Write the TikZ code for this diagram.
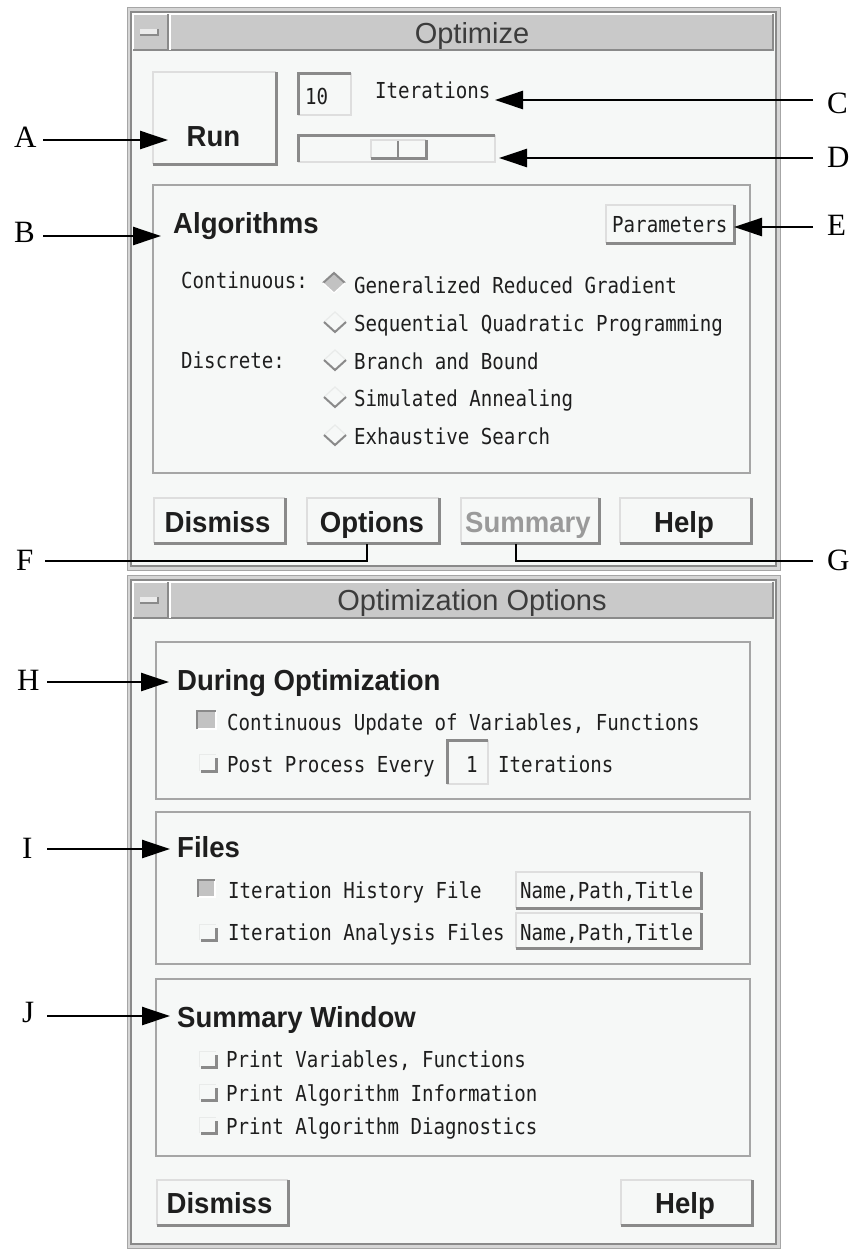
\documentclass[tikz,border=0pt]{standalone}
\usepackage{fontspec}
\usetikzlibrary{arrows.meta}
\newfontfamily\uibold[FakeStretch=0.95]{Liberation Sans}
\newfontfamily\uimono[FakeStretch=0.87]{DejaVu Sans Mono}
\newfontfamily\uititle{Liberation Sans}
\newfontfamily\labfont{Liberation Serif}
\definecolor{winbg}{HTML}{F6F8F7}
\definecolor{barfill}{HTML}{C9C9C9}
\definecolor{edgedark}{HTML}{8A8A8A}
\definecolor{edgelight}{HTML}{DEDEDE}
\definecolor{edgefaint}{HTML}{E9EBEA}
\definecolor{framegray}{HTML}{A6A6A6}
\definecolor{borderband}{HTML}{D6D6D6}
\definecolor{txt}{HTML}{1E1E1E}
\definecolor{titletxt}{HTML}{3C3C3C}
\definecolor{disabled}{HTML}{9A9A9A}
\definecolor{checkfill}{HTML}{C2C2C2}

% raised button face: light top/left, dark bottom/right
\newcommand{\raisedrect}[4]{%
  \fill[winbg] (#1,#2) rectangle (#3,#4);
  \draw[edgelight, line width=1.2bp] (#1,#4) -- (#1,#2) -- (#3,#2);
  \draw[edgedark, line width=3bp] (#3,#2) -- (#3,#4) -- (#1,#4);}
% sunken field: dark top/left, light bottom/right
\newcommand{\sunkenrect}[4]{%
  \fill[winbg] (#1,#2) rectangle (#3,#4);
  \draw[edgelight, line width=1.2bp] (#3,#2) -- (#3,#4) -- (#1,#4);
  \draw[edgedark, line width=3bp] (#1,#4) -- (#1,#2) -- (#3,#2);}
% check box, set
\newcommand{\checkon}[4]{%
  \fill[checkfill] (#1,#2) rectangle (#3,#4);
  \draw[white, line width=1.2bp] (#3,#2) -- (#3,#4) -- (#1,#4);
  \draw[edgedark, line width=2.5bp] (#1,#4) -- (#1,#2) -- (#3,#2);}
% check box, unset
\newcommand{\checkoff}[4]{%
  \draw[edgefaint, line width=1bp] (#1,#4) -- (#1,#2) -- (#3,#2);
  \draw[edgedark, line width=3bp] (#3,#2+4) -- (#3,#4) -- (#1+2,#4);}
% radio diamond, unset (centre x, centre y)
\newcommand{\radiooff}[2]{%
  \draw[edgefaint, line width=1.2bp] (#1-11,#2) -- (#1,#2-10) -- (#1+11,#2);
  \draw[edgedark, line width=2bp] (#1-11,#2) -- (#1,#2+10) -- (#1+11,#2);}
% radio diamond, set
\newcommand{\radioon}[2]{%
  \fill[checkfill] (#1-11,#2) -- (#1,#2-10) -- (#1+11,#2) -- (#1,#2+10) -- cycle;
  \draw[edgedark, line width=2bp] (#1-11,#2) -- (#1,#2-10) -- (#1+11,#2);
  \draw[white, line width=1.2bp] (#1-11,#2) -- (#1,#2+10) -- (#1+11,#2);}
% window frame with title bar
\newcommand{\guiwindow}[5]{% x1 y1 x2 y2 titlebar-bottom
  \fill[borderband] (#1,#2) rectangle (#3,#4);
  \draw[framegray, line width=1bp] (#1,#2) rectangle (#3,#4);
  \fill[winbg] (#1+4,#2+5) rectangle (#3-4,#4-4);
  \draw[edgedark, line width=2bp] (#1+4,#2+5) rectangle (#3-4,#4-4);
  \fill[barfill] (#1+6,#2+7) rectangle (#3-7,#5);
  \draw[white, line width=1.2bp] (#1+6,#5) -- (#1+6,#2+7) -- (#3-7,#2+7);
  \draw[edgedark, line width=2bp] (#3-7,#2+7) -- (#3-7,#5) -- (#1+6,#5);
  \draw[edgedark, line width=1.5bp] (#1+41,#2+7) -- (#1+41,#5);
  \draw[white, line width=1.2bp] (#1+43,#2+7) -- (#1+43,#5);
  \fill[white!92!black] (#1+13,#2+22) rectangle (#1+31,#2+28);
  \draw[edgedark, line width=1.2bp] (#1+31,#2+22) -- (#1+31,#2+28) -- (#1+13,#2+28);}

\tikzset{
  mono/.style={font={\uimono\fontsize{22bp}{22bp}\selectfont}, text=txt, inner sep=0pt, anchor=base west},
  boldtxt/.style={font={\uibold\bfseries\fontsize{29bp}{29bp}\selectfont}, text=txt, inner sep=0pt, anchor=base},
  heading/.style={boldtxt, anchor=base west},
  wintitle/.style={font={\uititle\fontsize{29bp}{29bp}\selectfont}, text=titletxt, inner sep=0pt, anchor=base},
  lab/.style={font={\labfont\fontsize{31bp}{31bp}\selectfont}, text=black, inner sep=0pt, text height=20bp, text depth=0pt, anchor=west},
  callout/.style={draw=black, line width=2.5bp, -{Triangle[length=28bp,width=18bp]}},
  leader/.style={draw=black, line width=2.5bp, line join=miter},
  groupframe/.style={draw=framegray, line width=2bp},
}

\begin{document}
\begin{tikzpicture}[x=1bp,y=-1bp]
\useasboundingbox (0,0) rectangle (851,1251);
\fill[white] (0,0) rectangle (851,1251);

% ---------- Optimize window ----------
\guiwindow{127}{7}{780}{570}{50}
\node[wintitle] (t1) at (472,43) {Optimize};

\raisedrect{153}{72}{276}{164}
\node[boldtxt] (run) at (213.5,146) {Run};

\sunkenrect{298}{73}{351}{115}
\node[mono] (iterval) at (305,104) {10};
\node[mono] (iterlbl) at (375,98.5) {Iterations};

\sunkenrect{298}{135}{495}{162}
\fill[winbg] (371,140) rectangle (426,158);
\draw[edgelight, line width=1.2bp] (371,158) -- (371,140) -- (426,140);
\draw[edgedark, line width=3bp] (426,140) -- (426,158) -- (371,158);
\draw[edgedark, line width=2.5bp] (398,141) -- (398,158);

\draw[groupframe] (153,185) rectangle (750,473);
\node[heading] (algo) at (173,233) {Algorithms};
\raisedrect{606}{205}{734}{243}
\node[mono] (param) at (612,232) {Parameters};

\node[mono] (cont) at (181,288) {Continuous:};
\node[mono] (disc) at (181,368) {Discrete:};
\radioon{334}{283}
\radiooff{335}{322}
\radiooff{335}{360}
\radiooff{335}{397}
\radiooff{335}{435}
\node[mono] (grg) at (354,293) {Generalized Reduced Gradient};
\node[mono] (sqp) at (354,331) {Sequential Quadratic Programming};
\node[mono] (bb)  at (354,369) {Branch and Bound};
\node[mono] (sa)  at (354,406) {Simulated Annealing};
\node[mono] (es)  at (354,444) {Exhaustive Search};

\raisedrect{154}{498}{285}{543}
\raisedrect{307}{498}{439}{543}
\raisedrect{461}{498}{599}{543}
\raisedrect{620}{498}{751}{543}
\node[boldtxt] (dis1) at (217.5,532) {Dismiss};
\node[boldtxt] (opt1) at (372,532) {Options};
\node[boldtxt, text=disabled] (sum1) at (528,532) {Summary};
\node[boldtxt] (help1) at (684,532) {Help};

% ---------- Optimization Options window ----------
\guiwindow{127}{575}{780}{1248}{618}
\node[wintitle] (t2) at (472,610) {Optimization Options};

\draw[groupframe] (156,642) rectangle (750,799);
\node[heading] (during) at (177,690) {During Optimization};
\checkon{197}{711}{216}{729}
\node[mono] (cu) at (227,730) {Continuous Update of Variables, Functions};
\checkoff{199}{754}{216}{771}
\node[mono] (pp) at (227,772) {Post Process Every};
\sunkenrect{447}{740}{488}{784}
\node[mono] (ppval) at (466,772) {1};
\node[mono] (ppit) at (498,772) {Iterations};

\draw[groupframe] (156,812) rectangle (750,964);
\node[heading] (files) at (177,857) {Files};
\checkon{198}{880}{215}{897}
\node[mono] (ihf) at (228,898) {Iteration History File};
\raisedrect{516}{872}{701}{908}
\node[mono] (np1) at (520,898) {Name,Path,Title};
\checkoff{199}{924}{216}{940}
\node[mono] (iaf) at (228,940) {Iteration Analysis Files};
\raisedrect{516}{913}{701}{948}
\node[mono] (np2) at (520,940) {Name,Path,Title};

\draw[groupframe] (156,979) rectangle (750,1156);
\node[heading] (sumwin) at (177,1027) {Summary Window};
\checkoff{199}{1051}{216}{1067}
\node[mono] (pvf) at (226,1067) {Print Variables, Functions};
\checkoff{199}{1084}{216}{1100}
\node[mono] (pai) at (226,1101) {Print Algorithm Information};
\checkoff{199}{1117}{216}{1133}
\node[mono] (pad) at (226,1134) {Print Algorithm Diagnostics};

\raisedrect{157}{1180}{288}{1225}
\raisedrect{621}{1180}{752}{1225}
\node[boldtxt] (dis2) at (219.5,1213) {Dismiss};
\node[boldtxt] (help2) at (685,1213) {Help};

% ---------- callout letters and their leaders ----------
\node[lab] (A) at (14,137.5) {A};
\node[lab] (B) at (14,232) {B};
\node[lab] (C) at (827,103) {C};
\node[lab] (D) at (827,157) {D};
\node[lab] (E) at (827,225) {E};
\node[lab] (F) at (16,560.5) {F};
\node[lab] (G) at (827,560.5) {G};
\node[lab] (H) at (17,680) {H};
\node[lab] (I) at (22,848) {I};
\node[lab] (J) at (22,1012) {J};

\coordinate (tA) at (168,140);
\coordinate (tB) at (161,236);
\coordinate (tC) at (495,100);
\coordinate (tD) at (499,158);
\coordinate (tE) at (734,227);
\coordinate (fF) at (367,561);
\coordinate (tF) at (367,544);
\coordinate (gG) at (516,561);
\coordinate (tG) at (516,544);
\coordinate (tH) at (169,682);
\coordinate (tI) at (170,849);
\coordinate (tJ) at (170,1016);

\draw[callout] ([xshift=6.6bp]A.east |- tA) -- (tA);
\draw[callout] ([xshift=8.3bp]B.east |- tB) -- (tB);
\draw[callout] ([xshift=-14bp]C.west |- tC) -- (tC);
\draw[callout] ([xshift=-14bp]D.west |- tD) -- (tD);
\draw[callout] ([xshift=-14bp]E.west |- tE) -- (tE);
\draw[leader] ([xshift=11.8bp]F.east |- fF) -- (fF) -- (tF);
\draw[leader] ([xshift=-14bp]G.west |- gG) -- (gG) -- (tG);
\draw[callout] ([xshift=7.6bp]H.east |- tH) -- (tH);
\draw[callout] ([xshift=14.7bp]I.east |- tI) -- (tI);
\draw[callout] ([xshift=12.9bp]J.east |- tJ) -- (tJ);
\end{tikzpicture}
\end{document}
